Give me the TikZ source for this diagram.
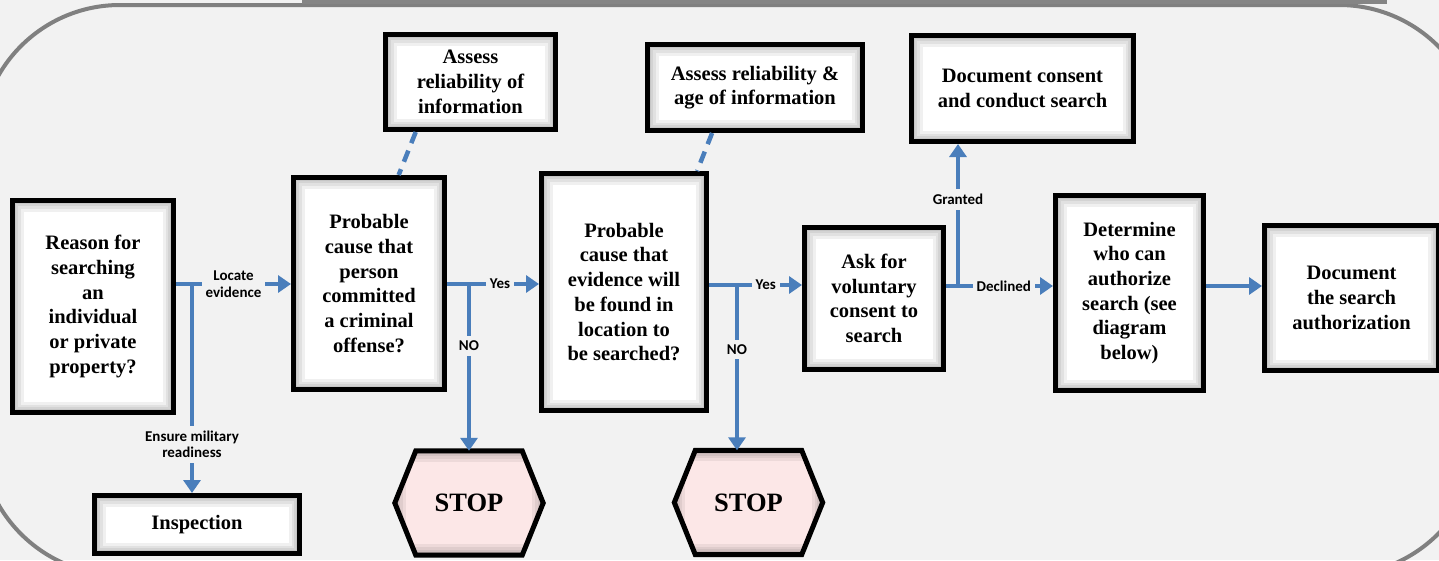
\documentclass[tikz,border=0pt]{standalone}
\usepackage{fontspec}
\setmainfont{Liberation Serif}
\newfontfamily\lblfont{Carlito}
\usetikzlibrary{arrows.meta,calc,backgrounds}
\definecolor{bg}{HTML}{F2F2F2}
\definecolor{flowblue}{HTML}{4A7EBB}
\definecolor{framegray}{HTML}{808080}
\definecolor{stoppink}{HTML}{FCE7E7}
\tikzset{
  bevel/.style={path picture={
    \foreach \w in {22,16,11,7}{
      \draw[black, opacity=0.06, line width=\w pt, xshift=-4pt, yshift=4pt]
        (path picture bounding box.north west) rectangle (path picture bounding box.south east);}
  }},
  box/.style={draw=black, line width=5pt, fill=white, bevel, align=center,
    font=\fontsize{20.5}{24.7}\selectfont\bfseries, inner sep=0pt},
  stopnode/.style={minimum width=148pt, minimum height=104pt, inner sep=0pt,
    font=\fontsize{26.5}{30}\selectfont\bfseries},
  hexshape/.style={draw=black, line width=5pt, fill=stoppink, line join=miter, bevel},
  flow/.style={draw=flowblue, line width=4.5pt, -{Triangle[length=13pt,width=17pt]}},
  lbl/.style={fill=bg, text=black, font=\lblfont\fontsize{15}{16.5}\selectfont\bfseries,
    align=center, inner xsep=4pt, inner ysep=5pt},
  dashlink/.style={draw=flowblue, line width=4.5pt, dash pattern=on 12pt off 8pt}
}
\begin{document}
\begin{tikzpicture}[x=1pt,y=-1pt]
\useasboundingbox (0,0) rectangle (1439,560);

% main nodes
\node[box, minimum width=161pt, minimum height=212pt] (reason) at (93,306.5)
  {Reason for\\searching\\an\\individual\\or private\\property?};
\node[box, minimum width=205pt, minimum height=58pt] (inspect) at (197,524.5) {Inspection};
\node[box, minimum width=151pt, minimum height=212pt] (pc1) at (369,283.5)
  {Probable\\cause that\\person\\committed\\a criminal\\offense?};
\node[box, minimum width=170pt, minimum height=95pt] (ar1) at (470.5,82)
  {Assess\\reliability of\\information};
\node[box, minimum width=165pt, minimum height=237pt] (pc2) at (624,292)
  {Probable\\cause that\\evidence will\\be found in\\location to\\be searched?};
\node[box, minimum width=215pt, minimum height=86pt] (ar2) at (755,87.5)
  {Assess reliability \&\\age of information};
\node[box, minimum width=222pt, minimum height=106pt] (doc1) at (1022.5,88.5)
  {Document consent\\and conduct search};
\node[box, minimum width=139pt, minimum height=142pt] (ask) at (874,298.5)
  {Ask for\\voluntary\\consent to\\search};
\node[box, minimum width=148pt, minimum height=195pt] (det) at (1129.5,293)
  {Determine\\who can\\authorize\\search (see\\diagram\\below)};
\node[box, minimum width=174pt, minimum height=145pt] (doc2) at (1351.5,298)
  {Document\\the search\\authorization};
\node[stopnode] (stop1) at (469,503) {STOP};
\node[stopnode] (stop2) at (748.5,502.5) {STOP};

% background, frame and hexagons
\begin{scope}[on background layer]
  \fill[bg] (0,0) rectangle (1439,560);
  \draw[framegray, line width=4pt, rounded corners=140pt] (-20,5) rectangle (1479,575);
  \fill[black!48] (302,-10) rectangle (1387,4);
  \foreach \s in {stop1,stop2}{
    \draw[hexshape] (\s.west) -- ([xshift=21pt]\s.north west) -- ([xshift=-21pt]\s.north east)
      -- (\s.east) -- ([xshift=-21pt]\s.south east) -- ([xshift=21pt]\s.south west) -- cycle;
  }
\end{scope}

% junction points
\coordinate (j1) at (192,284);
\coordinate (j2) at (469,284);
\coordinate (j3) at (737,285);
\coordinate (j4) at (958,286);

% connectors
\draw[flow] (reason.east |- j1) -- node[lbl]{Locate\\evidence} (pc1.west |- j1);
\draw[flow] (j1) -- node[lbl, pos=0.766]{Ensure military\\readiness} (inspect.north -| j1);

\draw[flow] (pc1.east |- j2) -- node[lbl, pos=0.576]{Yes} (pc2.west |- j2);
\draw[flow] (j2) -- node[lbl, pos=0.37]{NO} (stop1.north -| j2);

\draw[flow] (pc2.east |- j3) -- node[lbl, pos=0.61]{Yes} (ask.west |- j3);
\draw[flow] (j3) -- node[lbl, pos=0.39]{NO} (stop2.north -| j3);

\draw[flow] (ask.east |- j4) -- node[lbl, pos=0.54]{Declined} (det.west |- j4);
\draw[flow] (j4) -- node[lbl, pos=0.61]{Granted} (doc1.south -| j4);

\draw[flow] (det.east |- j4) -- (doc2.west |- j4);

\draw[dashlink] ($(ar1.south west)!0.187!(ar1.south east)$) -- ($(pc1.north west)!0.69!(pc1.north east)$);
\draw[dashlink] ($(ar2.south west)!0.305!(ar2.south east)$) -- ($(pc2.north west)!0.93!(pc2.north east)$);
\end{tikzpicture}
\end{document}
